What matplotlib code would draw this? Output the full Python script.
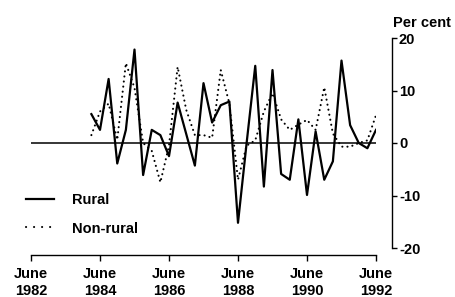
import matplotlib.pyplot as plt
from matplotlib.lines import Line2D
import numpy as np

# quarterly percentage changes, March 1984 to June 1992
start_year = 1983.75
rural = [5.5, 2.5, 12.2, -3.9, 2.5, 17.8, -6.1, 2.5, 1.5, -2.5,
         7.7, 1.7, -4.3, 11.4, 3.9, 7.2, 7.9, -15.2, 0.0, 14.7,
         -8.3, 13.9, -5.9, -7.0, 4.5, -9.9, 2.2, -7.0, -3.5, 15.7,
         3.4, 0.0, -1.0, 2.5]
non_rural = [1.5, 6.0, 7.5, 0.6, 15.2, 10.5, 0.0, -1.5, -7.5, -0.5,
             14.5, 6.3, 1.5, 1.5, 1.0, 13.9, 7.5, -7.0, -0.5, 0.5,
             6.0, 9.5, 4.5, 2.5, 3.5, 4.4, 2.5, 10.6, 1.8, -0.7,
             -0.7, 0.0, 0.5, 5.3]
tick_years = [1982, 1984, 1986, 1988, 1990, 1992]
tick_labels = [f"June\n{y}" for y in tick_years]
y_ticks = [-20, -10, 0, 10, 20]

plt.rcParams['font.family'] = ['Liberation Sans', 'DejaVu Sans']
plt.rcParams['font.weight'] = 'bold'
plt.rcParams['font.size'] = 10.5

x = start_year + 0.25 * np.arange(len(rural))

fig = plt.figure(figsize=(4.55, 2.97), dpi=100)
ax = fig.add_axes([31 / 455, 49 / 297, 345 / 455, 210 / 297])

ax.axhline(0, color='black', lw=1.1, zorder=1)
ax.plot(x, non_rural, color='black', lw=1.5, linestyle=(0, (0.05, 2.4)),
        dash_capstyle='round', zorder=2)
ax.plot(x, rural, color='black', lw=1.6, zorder=3)

ax.set_xlim(1982, 1992)
ax.set_ylim(-20, 20)

for s in ['left', 'top']:
    ax.spines[s].set_visible(False)
ax.spines['right'].set_position(('outward', 11.5))
ax.spines['bottom'].set_position(('outward', 5))
ax.spines['right'].set_bounds(-20, 20)
ax.spines['bottom'].set_bounds(1982, 1992)
ax.spines['right'].set_linewidth(1.0)
ax.spines['bottom'].set_linewidth(1.0)

ax.yaxis.tick_right()
ax.set_yticks(y_ticks)
ax.set_yticklabels([str(v) for v in y_ticks])
ax.set_xticks(tick_years)
ax.set_xticklabels(tick_labels, linespacing=1.2)
ax.tick_params(axis='y', direction='out', length=3.5, width=1.0, pad=1.5)
ax.tick_params(axis='x', direction='out', length=4, width=1.0, pad=5)

ax.text(1.133, 1.04, 'Per cent', transform=ax.transAxes, ha='center',
        va='bottom')

handles = [Line2D([], [], color='black', lw=1.6),
           Line2D([], [], color='black', lw=1.5, linestyle=(0, (0.05, 3.8)),
                  dash_capstyle='round')]
ax.legend(handles, ['Rural', 'Non-rural'], loc='upper left',
          bbox_to_anchor=(-0.03, 0.29), frameon=False, handlelength=1.9,
          handletextpad=1.25, labelspacing=1.0, borderaxespad=0)

fig.savefig('out.png', dpi=100)
